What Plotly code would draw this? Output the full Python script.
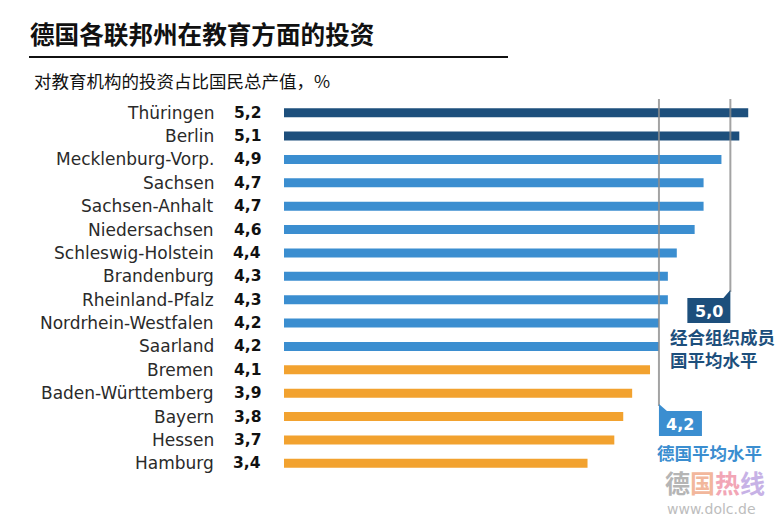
import plotly.graph_objects as go

states = ["Thüringen", "Berlin", "Mecklenburg-Vorp.", "Sachsen", "Sachsen-Anhalt",
          "Niedersachsen", "Schleswig-Holstein", "Brandenburg", "Rheinland-Pfalz",
          "Nordrhein-Westfalen", "Saarland", "Bremen", "Baden-Württemberg",
          "Bayern", "Hessen", "Hamburg"]
values = [5.2, 5.1, 4.9, 4.7, 4.7, 4.6, 4.4, 4.3, 4.3, 4.2, 4.2, 4.1, 3.9, 3.8, 3.7, 3.4]
oecd_avg = 5.0
de_avg = 4.2

NAVY = "#1d4f7c"
BLUE = "#3b8ed0"
ORANGE = "#f2a22f"
colors = [NAVY if v > oecd_avg else (BLUE if v >= de_avg else ORANGE) for v in values]

def fmt(v):
    return f"{v:.1f}".replace(".", ",")

LATIN = "DejaVu Sans"
CJK = "Noto Sans CJK SC"

W, H = 778, 521
L, R, T, B = 284, 3, 101, 46
pw, ph = W - L - R, H - T - B
XMAX = 5.5
def px(x):
    return (x - L) / pw
def py(y):
    return 1 - (y - T) / ph
xscale = pw / XMAX
def dx(v):
    return L + v * xscale

fig = go.Figure()
fig.add_trace(go.Bar(
    y=states, x=values, orientation="h",
    marker=dict(color=colors, line=dict(width=0)),
    width=0.39, hoverinfo="skip",
))

annotations = []
for s, v in zip(states, values):
    annotations.append(dict(x=px(216), y=s, xref="paper", yref="y", text=s, showarrow=False,
                            xanchor="right", yanchor="middle",
                            font=dict(family=LATIN, size=17, color="#2a2a2a")))
    annotations.append(dict(x=px(263), y=s, xref="paper", yref="y", text="<b>" + fmt(v) + "</b>",
                            showarrow=False, xanchor="right", yanchor="middle",
                            font=dict(family=LATIN, size=15.5, color="#111111")))

annotations += [
    dict(x=px(28), y=py(33), xref="paper", yref="paper", text="<b>德国各联邦州在教育方面的投资</b>",
         showarrow=False, xanchor="left", yanchor="middle",
         font=dict(family=CJK, size=24.6, color="#111111")),
    dict(x=px(32), y=py(80), xref="paper", yref="paper", text="对教育机构的投资占比国民总产值，%",
         showarrow=False, xanchor="left", yanchor="middle",
         font=dict(family=CJK, size=17.5, color="#111111")),
]

shapes = []
shapes.append(dict(type="line", xref="x", yref="paper", x0=de_avg, x1=de_avg, y0=py(99), y1=py(406),
                   line=dict(color="rgba(140,140,140,0.8)", width=2), layer="above"))
shapes.append(dict(type="line", xref="x", yref="paper", x0=oecd_avg, x1=oecd_avg, y0=py(99), y1=py(292),
                   line=dict(color="rgba(140,140,140,0.8)", width=2), layer="above"))
shapes.append(dict(type="line", xref="paper", yref="paper", x0=px(29), x1=px(508), y0=py(57), y1=py(57),
                   line=dict(color="#111111", width=2)))

# OECD tag
lx = dx(oecd_avg)
shapes.append(dict(type="path", xref="paper", yref="paper",
                   path=f"M {px(lx-43)},{py(298)} L {px(lx-7)},{py(298)} L {px(lx)},{py(290)} L {px(lx)},{py(323)} L {px(lx-43)},{py(323)} Z",
                   fillcolor=NAVY, line=dict(width=0)))
annotations.append(dict(x=px(lx - 21.5), y=py(311), xref="paper", yref="paper",
                        text="<b>" + fmt(oecd_avg) + "</b>", showarrow=False,
                        xanchor="center", yanchor="middle",
                        font=dict(family=LATIN, size=16, color="white")))
annotations.append(dict(x=px(668), y=py(348), xref="paper", yref="paper",
                        text="<b>经合组织成员<br>国平均水平</b>", showarrow=False, align="left",
                        xanchor="left", yanchor="middle",
                        font=dict(family=CJK, size=17.5, color="#1d4f7c")))

# Germany tag
gx = dx(de_avg)
shapes.append(dict(type="path", xref="paper", yref="paper",
                   path=f"M {px(gx)},{py(404)} L {px(gx+8)},{py(411)} L {px(gx+43)},{py(411)} L {px(gx+43)},{py(436)} L {px(gx)},{py(436)} Z",
                   fillcolor=BLUE, line=dict(width=0)))
annotations.append(dict(x=px(gx + 21.5), y=py(424), xref="paper", yref="paper",
                        text="<b>" + fmt(de_avg) + "</b>", showarrow=False,
                        xanchor="center", yanchor="middle",
                        font=dict(family=LATIN, size=16, color="white")))
annotations.append(dict(x=px(655), y=py(452), xref="paper", yref="paper",
                        text="<b>德国平均水平</b>", showarrow=False,
                        xanchor="left", yanchor="middle",
                        font=dict(family=CJK, size=17.5, color="#3b8ed0")))

# watermark
annotations.append(dict(x=px(663), y=py(482), xref="paper", yref="paper",
                        text="<b><span style='color:#b5b5b5'>德</span><span style='color:#f2b79c'>国</span>"
                             "<span style='color:#f2a6b6'>热</span><span style='color:#c7b2e6'>线</span></b>",
                        showarrow=False, xanchor="left", yanchor="middle",
                        font=dict(family=CJK, size=25)))
annotations.append(dict(x=px(665), y=py(509), xref="paper", yref="paper",
                        text="www.dolc.de", showarrow=False, xanchor="left", yanchor="middle",
                        font=dict(family=LATIN, size=14, color="#bdbdbd")))

fig.update_layout(
    width=W, height=H,
    margin=dict(l=L, r=R, t=T, b=B, autoexpand=False),
    paper_bgcolor="white", plot_bgcolor="white",
    showlegend=False,
    xaxis=dict(range=[0, XMAX], visible=False, fixedrange=True),
    yaxis=dict(autorange=False, range=[15.5, -0.5], visible=False, type="category"),
    annotations=annotations, shapes=shapes,
)
fig.write_html("out.html", config={"displayModeBar": False},
               post_script="document.body.style.margin='0';document.body.style.padding='0';")
